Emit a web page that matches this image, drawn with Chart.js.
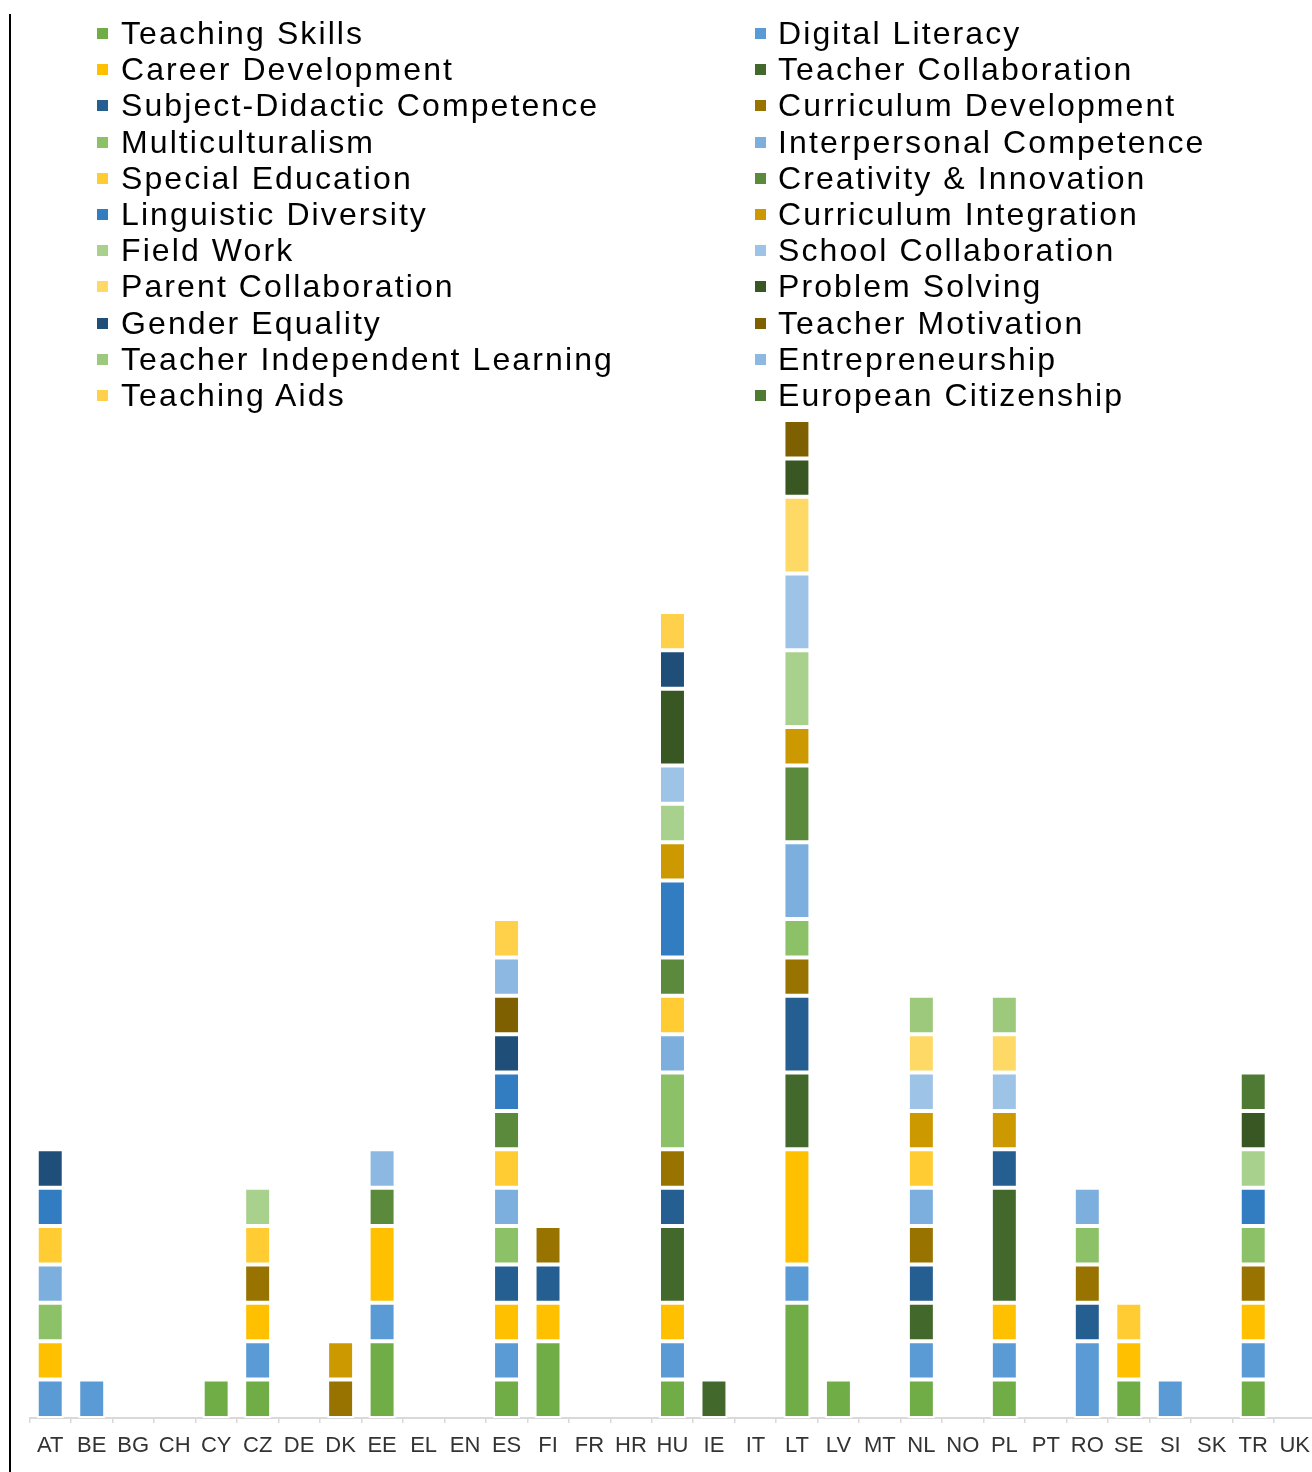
<!DOCTYPE html>
<html><head><meta charset="utf-8">
<script src="https://cdn.jsdelivr.net/npm/chart.js@4/dist/chart.umd.min.js"></script>
<style>
html,body{margin:0;padding:0;background:#fff;overflow:hidden;width:1312px;height:1472px;}
#wrap{position:relative;width:1312px;height:1472px;overflow:hidden;}
canvas{position:absolute;left:0;top:0;}
.lg{position:absolute;font-family:"Liberation Sans",Arial,sans-serif;font-size:32px;letter-spacing:2.1px;color:#000;white-space:nowrap;line-height:36px;height:36px;}
.sw{position:absolute;width:11px;height:11px;}
</style></head><body>
<div id="wrap"><canvas id="c" width="1320" height="1472"></canvas><div id="legend"></div></div>
<script>
const categories = ["AT","BE","BG","CH","CY","CZ","DE","DK","EE","EL","EN","ES","FI","FR","HR","HU","IE","IT","LT","LV","MT","NL","NO","PL","PT","RO","SE","SI","SK","TR","UK"];

const teachingSkills        = [0,0,0,0,1,1,0,0,2,0,0,1,2,0,0,1,0,0,3,1,0,1,0,1,0,0,1,0,0,1,0];
const digitalLiteracy       = [1,1,0,0,0,1,0,0,1,0,0,1,0,0,0,1,0,0,1,0,0,1,0,1,0,2,0,1,0,1,0];
const careerDevelopment     = [1,0,0,0,0,1,0,0,2,0,0,1,1,0,0,1,0,0,3,0,0,0,0,1,0,0,1,0,0,1,0];
const teacherCollaboration  = [0,0,0,0,0,0,0,0,0,0,0,0,0,0,0,2,1,0,2,0,0,1,0,3,0,0,0,0,0,0,0];
const subjectDidactic       = [0,0,0,0,0,0,0,0,0,0,0,1,1,0,0,1,0,0,2,0,0,1,0,1,0,1,0,0,0,0,0];
const curriculumDevelopment = [0,0,0,0,0,1,0,1,0,0,0,0,1,0,0,1,0,0,1,0,0,1,0,0,0,1,0,0,0,1,0];
const multiculturalism      = [1,0,0,0,0,0,0,0,0,0,0,1,0,0,0,2,0,0,1,0,0,0,0,0,0,1,0,0,0,1,0];
const interpersonal         = [1,0,0,0,0,0,0,0,0,0,0,1,0,0,0,1,0,0,2,0,0,1,0,0,0,1,0,0,0,0,0];
const specialEducation      = [1,0,0,0,0,1,0,0,0,0,0,1,0,0,0,1,0,0,0,0,0,1,0,0,0,0,1,0,0,0,0];
const creativity            = [0,0,0,0,0,0,0,0,1,0,0,1,0,0,0,1,0,0,2,0,0,0,0,0,0,0,0,0,0,0,0];
const linguisticDiversity   = [1,0,0,0,0,0,0,0,0,0,0,1,0,0,0,2,0,0,0,0,0,0,0,0,0,0,0,0,0,1,0];
const curriculumIntegration = [0,0,0,0,0,0,0,1,0,0,0,0,0,0,0,1,0,0,1,0,0,1,0,1,0,0,0,0,0,0,0];
const fieldWork             = [0,0,0,0,0,1,0,0,0,0,0,0,0,0,0,1,0,0,2,0,0,0,0,0,0,0,0,0,0,1,0];
const schoolCollaboration   = [0,0,0,0,0,0,0,0,0,0,0,0,0,0,0,1,0,0,2,0,0,1,0,1,0,0,0,0,0,0,0];
const parentCollaboration   = [0,0,0,0,0,0,0,0,0,0,0,0,0,0,0,0,0,0,2,0,0,1,0,1,0,0,0,0,0,0,0];
const problemSolving        = [0,0,0,0,0,0,0,0,0,0,0,0,0,0,0,2,0,0,1,0,0,0,0,0,0,0,0,0,0,1,0];
const genderEquality        = [1,0,0,0,0,0,0,0,0,0,0,1,0,0,0,1,0,0,0,0,0,0,0,0,0,0,0,0,0,0,0];
const teacherMotivation     = [0,0,0,0,0,0,0,0,0,0,0,1,0,0,0,0,0,0,1,0,0,0,0,0,0,0,0,0,0,0,0];
const independentLearning   = [0,0,0,0,0,0,0,0,0,0,0,0,0,0,0,0,0,0,0,0,0,1,0,1,0,0,0,0,0,0,0];
const entrepreneurship      = [0,0,0,0,0,0,0,0,1,0,0,1,0,0,0,0,0,0,0,0,0,0,0,0,0,0,0,0,0,0,0];
const teachingAids          = [0,0,0,0,0,0,0,0,0,0,0,1,0,0,0,1,0,0,0,0,0,0,0,0,0,0,0,0,0,0,0];
const europeanCitizenship   = [0,0,0,0,0,0,0,0,0,0,0,0,0,0,0,0,0,0,0,0,0,0,0,0,0,0,0,0,0,1,0];

const seriesLabels = ["Teaching Skills","Digital Literacy","Career Development","Teacher Collaboration","Subject-Didactic Competence","Curriculum Development","Multiculturalism","Interpersonal Competence","Special Education","Creativity & Innovation","Linguistic Diversity","Curriculum Integration","Field Work","School Collaboration","Parent Collaboration","Problem Solving","Gender Equality","Teacher Motivation","Teacher Independent Learning","Entrepreneurship","Teaching Aids","European Citizenship"];
const seriesColors = ["#70AD47","#5B9BD5","#FFC000","#43682B","#255E91","#997300","#8CC168","#7CAFDD","#FFCD33","#5B8A3C","#327DC2","#CC9A00","#A9D18E","#9DC3E6","#FFD966","#385723","#1F4E79","#7F6000","#9DC97C","#8DB8E2","#FFD14A","#4F7A33"];
const seriesData = [teachingSkills,digitalLiteracy,careerDevelopment,teacherCollaboration,subjectDidactic,curriculumDevelopment,multiculturalism,interpersonal,specialEducation,creativity,linguisticDiversity,curriculumIntegration,fieldWork,schoolCollaboration,parentCollaboration,problemSolving,genderEquality,teacherMotivation,independentLearning,entrepreneurship,teachingAids,europeanCitizenship];

// HTML legend (two columns, row-major like the source)
const lg = document.getElementById('legend');
seriesLabels.forEach((name, i) => {
  const col = i % 2, row = Math.floor(i / 2);
  const baseline = 44 + row * 36.2;
  const sw = document.createElement('div');
  sw.className = 'sw';
  sw.style.background = seriesColors[i];
  sw.style.left = (col === 0 ? 97 : 755) + 'px';
  sw.style.top = (baseline - 16) + 'px';
  lg.appendChild(sw);
  const t = document.createElement('div');
  t.className = 'lg';
  t.textContent = name;
  t.style.left = (col === 0 ? 121 : 778) + 'px';
  t.style.top = (baseline - 29) + 'px';
  lg.appendChild(t);
});

const axisLine = {
  id: 'axisLine',
  afterDraw(chart) {
    const ctx = chart.ctx;
    ctx.save();
    ctx.fillStyle = '#000';
    ctx.fillRect(9, 14, 2, chart.height - 14);
    ctx.restore();
  }
};

new Chart(document.getElementById('c'), {
  type: 'bar',
  data: {
    labels: categories,
    datasets: seriesData.map((d, i) => ({
      label: seriesLabels[i],
      data: d,
      backgroundColor: seriesColors[i],
      borderColor: '#ffffff',
      borderWidth: 2,
      borderSkipped: false,
      barPercentage: 0.65,
      categoryPercentage: 1.0
    }))
  },
  options: {
    responsive: false,
    animation: false,
    devicePixelRatio: 1,
    layout: { padding: { top: 420, left: 29.5, right: 0, bottom: 0 } },
    plugins: { legend: { display: false }, tooltip: { enabled: false } },
    scales: {
      x: {
        stacked: true,
        afterFit: (s) => { s.height = 54; },
        grid: { display: true, drawOnChartArea: false, drawTicks: true, tickLength: 5, color: '#D9D9D9', lineWidth: 1.5, offset: true },
        border: { display: true, color: '#D9D9D9', width: 2 },
        ticks: { font: { family: '"Liberation Sans", Arial, sans-serif', size: 22 }, color: '#333', padding: 10, autoSkip: false, maxRotation: 0 }
      },
      y: { stacked: true, display: false, min: 0, max: 26 }
    }
  },
  plugins: [axisLine]
});
</script>
</body></html>
